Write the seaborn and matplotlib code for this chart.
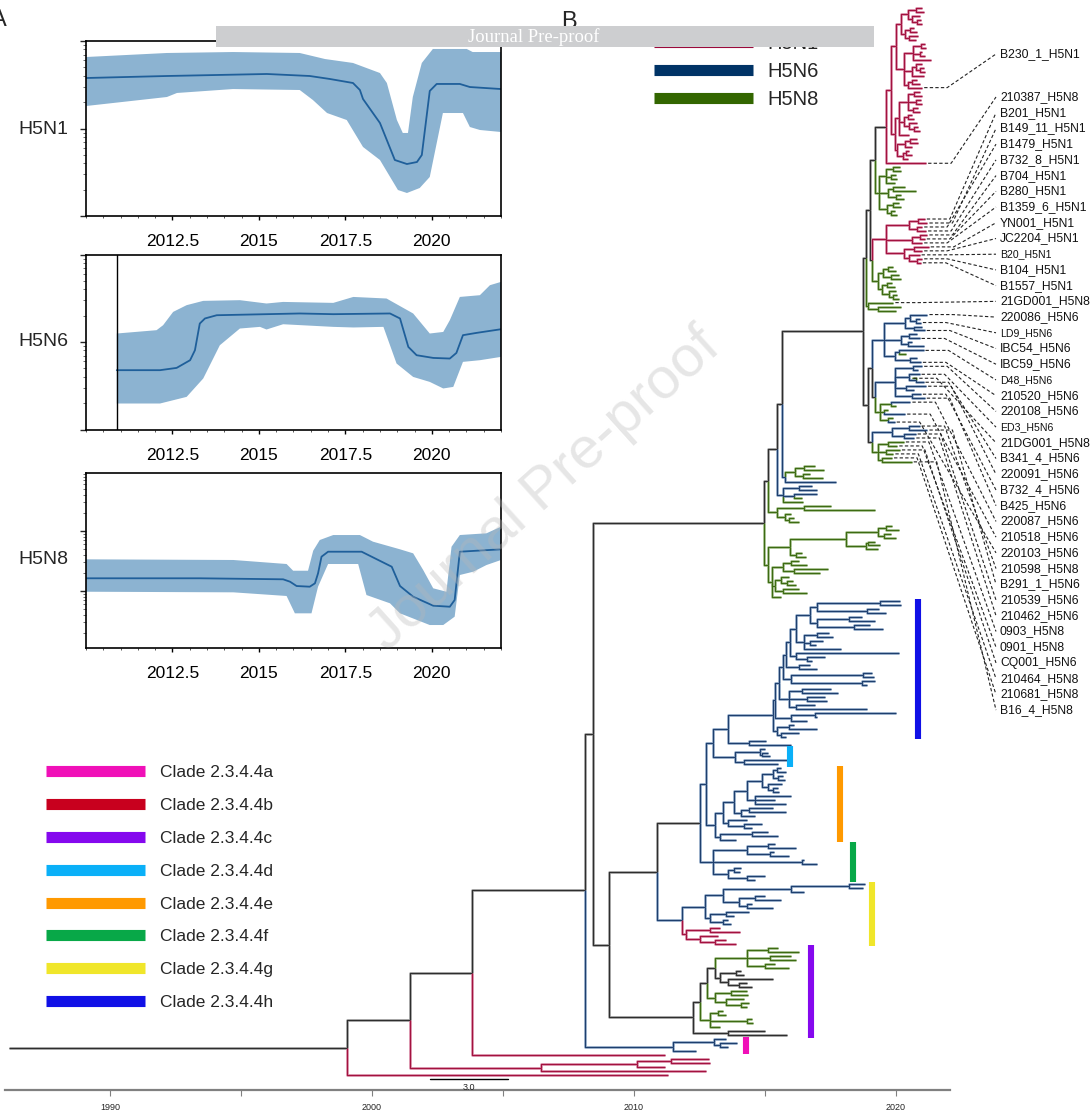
import numpy as np
import pandas as pd
import seaborn as sns
import matplotlib
matplotlib.use('Agg')
import matplotlib.pyplot as plt
from matplotlib.collections import LineCollection
from matplotlib.lines import Line2D
from matplotlib.patches import Rectangle
from matplotlib.ticker import FixedLocator, MultipleLocator, LogLocator, NullFormatter

sns.set_theme(style='white')
plt.rcParams['font.family'] = ['Liberation Sans', 'DejaVu Sans']

# ---------------- panel A: skyline data (log10 scale) ----------------
h5n1_med_year = [2010.0, 2012.34, 2015.23, 2016.47, 2017.05, 2017.72, 2017.92, 2018.01, 2018.5, 2018.93,
                 2019.28, 2019.57, 2019.71, 2019.94, 2020.14, 2020.81, 2021.1, 2022.0]
h5n1_med_log = [1.577, 1.6, 1.623, 1.6, 1.566, 1.52, 1.44, 1.337, 1.063, 0.64,
                0.594, 0.617, 0.697, 1.429, 1.509, 1.509, 1.474, 1.451]
h5n1_hi_year = [2010.0, 2012.34, 2014.25, 2016.18, 2016.91, 2017.72, 2018.5, 2018.7, 2018.99, 2019.16,
                2019.31, 2019.45, 2019.71, 2020.03, 2021.01, 2021.18, 2022.0]
h5n1_hi_log = [1.817, 1.863, 1.874, 1.863, 1.794, 1.749, 1.634, 1.52, 1.097, 0.949,
               0.949, 1.36, 1.749, 1.909, 1.909, 1.874, 1.874]
h5n1_lo_year = [2010.0, 2012.34, 2012.63, 2014.25, 2016.18, 2016.56, 2016.97, 2017.54, 2018.01, 2018.5,
                2019.02, 2019.28, 2019.65, 2019.94, 2020.32, 2020.9, 2021.1, 2021.39, 2022.0]
h5n1_lo_log = [1.257, 1.36, 1.406, 1.451, 1.44, 1.326, 1.177, 1.097, 0.789, 0.64,
               0.297, 0.263, 0.32, 0.446, 1.177, 1.177, 1.017, 0.983, 0.96]

h5n6_med_year = [2010.89, 2012.14, 2012.62, 2013.01, 2013.15, 2013.29, 2013.44, 2013.78, 2015.22, 2016.18,
                 2017.15, 2018.79, 2019.08, 2019.32, 2019.56, 2020.04, 2020.52, 2020.71, 2020.9, 2021.29, 2022.0]
h5n6_med_log = [0.678, 0.678, 0.704, 0.792, 0.906, 1.211, 1.269, 1.306, 1.318, 1.326,
                1.318, 1.326, 1.269, 0.944, 0.849, 0.818, 0.811, 0.875, 1.078, 1.104, 1.146]
h5n6_hi_year = [2010.89, 2012.04, 2012.23, 2012.52, 2012.91, 2013.39, 2014.45, 2015.22, 2015.7, 2017.15,
                2017.73, 2018.69, 2019.46, 2019.94, 2020.33, 2020.52, 2020.81, 2021.39, 2021.68, 2022.0]
h5n6_hi_log = [1.097, 1.135, 1.192, 1.344, 1.421, 1.47, 1.478, 1.44, 1.458, 1.447,
               1.515, 1.497, 1.326, 1.097, 1.115, 1.249, 1.515, 1.535, 1.649, 1.687]
h5n6_lo_year = [2010.89, 2012.14, 2012.91, 2013.39, 2013.87, 2014.45, 2015.03, 2015.22, 2015.7, 2017.15,
                2017.73, 2018.6, 2018.98, 2019.46, 2019.94, 2020.33, 2020.62, 2020.9, 2021.39, 2022.0]
h5n6_lo_log = [0.297, 0.297, 0.373, 0.583, 0.963, 1.154, 1.173, 1.143, 1.203, 1.173,
               1.166, 1.173, 0.754, 0.601, 0.544, 0.469, 0.487, 0.773, 0.792, 0.83]

h5n8_med_year = [2010.0, 2013.29, 2015.7, 2015.9, 2016.09, 2016.47, 2016.62, 2016.71, 2016.81, 2017.0,
                 2017.97, 2018.84, 2019.08, 2019.46, 2020.04, 2020.52, 2020.66, 2020.81, 2022.0]
h5n8_med_log = [0.212, 0.212, 0.195, 0.155, 0.083, 0.072, 0.128, 0.295, 0.572, 0.655,
                0.655, 0.405, 0.083, -0.095, -0.245, -0.262, -0.15, 0.655, 0.695]
h5n8_hi_year = [2010.0, 2014.26, 2015.8, 2015.99, 2016.42, 2016.57, 2016.76, 2017.15, 2017.92, 2018.3,
                2019.08, 2019.46, 2019.75, 2020.04, 2020.42, 2020.57, 2020.81, 2021.58, 2022.0]
h5n8_hi_log = [0.528, 0.517, 0.45, 0.338, 0.338, 0.672, 0.85, 0.933, 0.933, 0.822,
               0.695, 0.628, 0.35, 0.045, -0.012, 0.738, 0.933, 0.962, 1.072]
h5n8_lo_year = [2010.0, 2014.26, 2015.8, 2016.04, 2016.52, 2016.71, 2017.0, 2017.87, 2018.11, 2018.79,
                2019.08, 2019.94, 2020.33, 2020.66, 2020.81, 2021.2, 2021.58, 2022.0]
h5n8_lo_log = [-0.012, -0.022, -0.083, -0.372, -0.372, 0.072, 0.45, 0.45, -0.067, -0.205,
               -0.372, -0.567, -0.567, -0.428, 0.267, 0.322, 0.433, 0.517]

subtypes = ['H5N1', 'H5N6', 'H5N8']
subtype_colors = ['#9B0A3B', '#003366', '#336600']
clade_names = ['Clade 2.3.4.4a', 'Clade 2.3.4.4b', 'Clade 2.3.4.4c', 'Clade 2.3.4.4d',
               'Clade 2.3.4.4e', 'Clade 2.3.4.4f', 'Clade 2.3.4.4g', 'Clade 2.3.4.4h']
clade_colors = ['#F010B8', '#C8001E', '#8508EE', '#0AB0F8', '#FF9900', '#08A848', '#F0E62A', '#1010E6']

# ---------------- panel B: time tree (node label:time in years) ----------------
# r=H5N1, b=H5N6, g=H5N8, k=unresolved ; name after '=' ; clade tag after '#'
red_a_1a = "((r:2021.0,r:2021.05)r:2020.75,(r:2020.9,(r:2020.95,r:2021.0)r:2020.8)r:2020.6)r:2020.45"
red_a_1b = "((r:2020.7,r:2020.8)r:2020.55,(r:2020.85,r:2020.75)r:2020.5)r:2020.35"
red_a_1c = "((r:2021.1,r:2021.15)r:2020.95,(r:2021.0,r:2021.1)r:2020.9,r:2021.35)r:2020.65"
red_a_1d = "((r:2021.0,(r:2021.05,r:2021.1)r:2020.9)r:2020.75,r:2021.05)r:2020.6"
red_a_1e = "((r:2020.8,r:2020.9)r:2020.6,r=B230_1_H5N1:2021.0)r:2020.45"
red_a_2a = "((r:2020.9,r:2021.0)r:2020.7,(r:2020.95,r:2021.0)r:2020.75,(r:2020.85,r:2020.9)r:2020.65)r:2020.45"
red_a_2b = "((r:2020.6,r:2020.7)r:2020.45,(r:2020.8,(r:2020.85,r:2020.9)r:2020.7)r:2020.5)r:2020.3"
red_a_2c = "((r:2020.8,r:2020.85)r:2020.55,r:2020.6)r:2020.35,((r:2020.5,r:2020.6)r:2020.4,r:2020.45)r:2020.25"
green_1 = ("(((g:2020.15,g:2020.2)g:2019.9,(g:2020.0,g:2020.05)g:2019.8,g:2019.95)g:2019.6,"
           "((g:2020.35,g:2020.75)g:2019.9,(g:2020.2,g:2020.3)g:2020.0)g:2019.7,"
           "((g:2020.1,g:2020.2)g:2019.9,(g:2019.95,g:2020.05)g:2019.8)g:2019.65)g:2019.35")
red_b = ("(((r=B201_H5N1:2021.1,r=B149_11_H5N1:2021.2)r:2020.85,(r=B1479_H5N1:2021.0,r=B732_8_H5N1:2021.15)r:2020.8)r:2020.5,"
         "((r=B704_H5N1:2021.2,r=B280_H5N1:2021.1)r:2020.9,r=B1359_6_H5N1:2021.0)r:2020.6,"
         "((r=YN001_H5N1:2021.25,r=JC2204_H5N1:2021.0)r:2020.7,(r=B20_H5N1:2020.9,"
         "(r=B104_H5N1:2021.0,r=B1557_H5N1:2020.95)r:2020.8)r:2020.5)r:2020.3)r:2019.6")
green_2 = ("(((g:2019.9,g:2020.0)g:2019.7,(g:2020.1,g:2020.2)g:2019.8)g:2019.5,"
           "((g:2019.85,g:2019.95)g:2019.65,(g:2020.0,(g:2020.05,g:2020.1)g:2019.9)g:2019.75)g:2019.45)g:2019.3")
green_3 = "(g=21GD001_H5N8:2019.9,(g:2020.2,g:2020.0)g:2019.3)g:2018.95"
blue_1 = ("(((b=220086_H5N6:2021.2,(b:2020.9,b=LD9_H5N6:2020.95)b:2020.75)b:2020.55,(b:2021.0,b=IBC54_H5N6:2021.1)b:2020.7)b:2020.35,"
          "((b:2020.8,b=IBC59_H5N6:2020.9)b:2020.5,(b:2020.6,b:2021.05)b:2020.45)b:2020.2,"
          "((b=D48_H5N6:2021.05,g:2020.4)b:2020.1,(b:2020.8,b=210520_H5N6:2020.95)b:2020.55)b:2019.95)b:2019.55")
blue_2 = ("((b=220108_H5N6:2021.0,b:2020.85)b:2020.65,(b=ED3_H5N6:2020.9,(g=21DG001_H5N8:2020.6,b=B341_4_H5N6:2021.05)b:2020.75)b:2020.5,"
          "(b=220091_H5N6:2021.15,b:2020.7)b:2020.4,(b=B732_4_H5N6:2020.95,b=B425_H5N6:2021.1)b:2020.6)b:2019.95")
mixed_2 = ("((b=220087_H5N6:2020.55,g:2020.0)g:2019.8,(g:2019.7,b=210518_H5N6:2020.35)g:2019.55,"
           "(g:2019.9,b=220103_H5N6:2019.95)g:2019.7)g:2019.4")
blue_3 = ("(((b=210598_H5N8:2020.9,b=B291_1_H5N6:2021.2)b:2020.5,(b=210539_H5N6:2020.75,b=210462_H5N6:2020.7)b:2020.3)b:2019.85,"
          "((g=0903_H5N8:2020.3,g=0901_H5N8:2020.05)g:2019.7,(g=CQ001_H5N6:2020.15,g=210464_H5N8:2019.9)g:2019.6,"
          "(g=210681_H5N8:2019.85,g=B16_4_H5N8:2020.6)g:2019.45)g:2019.3)k:2019.1")
mid_a = "(((g:2016.9,g:2017.25)g:2016.5,(g:2016.7,g:2017.2)g:2016.45)g:2016.15,b:2017.7)b:2015.75"
mid_b = "((b:2016.8,b:2017.0)b:2016.3,(b:2017.0,g:2016.4)b:2016.1,g:2016.45)b:2015.7"
mid_c = "((g:2017.5,g:2019.2)g:2016.5,(g:2016.0,(g:2016.1,g:2016.3)g:2015.9)g:2015.75)g:2015.45"
green_5a = ("((((g:2019.85,g:2020.1)g:2019.6,(g:2019.8,g:2020.0)g:2019.55)g:2019.3,((g:2019.2,g:2019.4)g:2018.95,g:2019.3)g:2018.85)g:2018.1,"
            "(g:2016.4,g:2016.55)g:2016.2)g:2015.95")
green_5b = ("(((g:2016.3,g:2016.6)g:2016.0,(g:2017.4,g:2017.1)g:2016.1)g:2015.7,"
            "((g:2015.9,(g:2016.05,g:2016.2)g:2015.85)g:2015.6,(g:2016.3,g:2016.6)g:2015.7)g:2015.4,g:2015.6)g:2015.25")
clade_h_parts = ["((b:2020.15,b:2020.2)b:2019.4,(b:2019.35,b:2019.6)b:2018.9)b:2017.0",
                 "((b:2018.7,b:2019.2)b:2018.2,(b:2019.0,b:2019.5)b:2018.4)b:2017.0",
                 "((b:2017.45,b:2017.6)b:2017.0,(b:2017.2,b:2016.95)b:2016.7,b:2017.9)b:2016.5",
                 "(b:2020.1,(b:2017.3,b:2016.8)b:2016.6)b:2016.2",
                 "(b:2016.7,b:2017.0)b:2016.3",
                 "((b:2019.1,b:2019.15)b:2018.75,(b:2019.2,b:2018.9)b:2018.7)b:2016.0",
                 "((b:2017.5,b:2017.8)b:2016.4,(b:2017.3,b:2017.35)b:2016.6,(b:2016.9,b:2018.9)b:2016.2)b:2015.9",
                 "((b:2020.0,b:2017.0)b:2016.9,b:2016.6)b:2016.0",
                 "((b:2016.1,b:2017.0)b:2015.9,(b:2016.3,b:2015.8)b:2015.6)b:2015.45"]
clade_h_spine = ["b:2016.7", "b:2016.2", "b:2015.95", "b:2015.8", "b:2015.7", "b:2015.55", "b:2015.4", "b#h:2015.3"]
small_h = "(b:2015.05,b:2016.0)b:2014.4"
clade_d = "((b:2015.0,(b:2015.1,b:2015.2)b:2014.9)b:2014.8,(b:2015.85,b:2015.5)b:2014.2)b#d:2013.85"
clade_e_parts = ["((b:2015.6,b:2015.8)b:2015.45,(b:2015.7,b:2015.75)b:2015.5)b:2015.3",
                 "(b:2015.65,(b:2015.5,b:2015.55)b:2015.3)b:2015.1",
                 "(b:2016.0,b:2015.4,b:2015.8)b:2014.6",
                 "((b:2015.3,b:2015.8)b:2014.4,b:2014.6)b:2014.1",
                 "(b:2014.3,(b:2014.9,b:2014.5)b:2014.2)b:2013.6",
                 "((b:2015.1,b:2015.5)b:2014.5,b:2013.9)b:2013.3"]
clade_e_spine = ["b:2014.9", "b:2014.3", "b:2013.8", "b:2013.4", "b#e:2013.1"]
clade_f = ("(((b:2015.4,b:2016.2)b:2015.1,(b:2015.35,b:2015.9)b:2015.2)b:2014.3,(b:2016.5,b:2017.0)b:2016.4,"
           "((b:2014.1,b:2014.05)b:2013.8,(b:2015.0,b:2014.6)b:2014.3)b:2013.6)b#f:2013.0")
clade_g_parts = ["((b:2018.8,b:2018.75)b:2018.2,b:2016.5)b:2016.0",
                 "((b:2015.0,b:2015.6)b:2014.6,(b:2014.5,b:2015.3)b:2014.3)b:2014.0",
                 "((b:2014.4,b:2013.8)b:2013.5,(b:2013.6,b:2013.7)b:2013.4)b:2012.9",
                 "((r:2013.3,r:2014.05)r:2012.9,(r:2013.2,(r:2013.5,r:2013.9)r:2013.1)r:2012.5)r:2012.0"]
clade_g_spine = ["b:2013.4", "b:2012.7", "b#g:2011.83"]
clade_c_parts = ["((g:2015.5,g:2016.3)g:2015.1,(g:2016.0,g:2016.2)g:2015.2,(g:2015.4,g:2015.9)g:2015.0)g:2014.3",
                 "((k:2014.1,k:2014.2)k:2013.9,(k:2015.3,(k:2014.3,k:2014.5)k:2014.0)k:2013.6)k:2013.3",
                 "((g:2014.3,g:2014.35)g:2013.7,(g:2014.2,(g:2014.4,g:2014.3)g:2014.1)g:2013.5)g:2013.1",
                 "((g:2013.4,g:2013.5)g:2013.2,(g:2014.5,g:2014.55)g:2014.3,g:2013.3)g:2012.9",
                 "(k:2015.0,k:2015.85)k:2013.6"]
clade_c_spine = ["k:2013.1", "k:2012.8", "k:2012.5", "k#c:2012.25"]
clade_a = "((b:2013.5,(b:2013.95,b:2013.6)b:2013.3)b:2013.05,b:2012.35)b#a:2011.5"
red_basal = "(((r:2012.85,r:2012.9)r:2011.4,r:2011.2)r:2010.1,r:2012.75)r:2006.45"


def ladder(parts, spine):
    s = parts[0]
    for part, lab in zip(parts[1:], spine):
        s = "(" + s + "," + part + ")" + lab
    return s


def build_tree():
    red_a = ("(((" + red_a_1a + "," + red_a_1b + ")r:2020.2,(" + red_a_1c + "," + red_a_1d + "," + red_a_1e +
             ")r:2020.3)r:2020.0,((" + red_a_2a + "," + red_a_2b + ",r:2020.5)r:2020.1,(" + red_a_2c +
             ")r:2020.05)r:2019.95)r:2019.8")
    u1 = "((" + red_a + ",r=210387_H5N8:2021.15)k:2019.6," + green_1 + ")k:2019.2"
    u2 = "(" + red_b + "," + green_2 + ")k:2019.1"
    up = "((" + u1 + "," + u2 + ")k:2019.0," + green_3 + ")k:2018.85"
    low = "((" + blue_1 + ",(" + blue_2 + "," + mixed_2 + ")k:2019.2)k:2019.1," + blue_3 + ")k:2018.95"
    top = "(" + up + "," + low + ")k:2018.75"
    n764 = ("((((" + top + "," + mid_a + ")k:2015.65," + mid_b + ")k:2015.45," + mid_c + ")k:2015.1,("
            + green_5a + "," + green_5b + ")g:2015.1)k:2014.95")
    ch = "(" + clade_h_parts[0] + "," + clade_h_parts[1] + ")" + clade_h_spine[0]
    ch = ladder([ch] + clade_h_parts[2:], clade_h_spine[1:])
    n713 = "((" + ch + "," + small_h + ")b:2013.6," + clade_d + ")b:2013.0"
    ce = "(" + clade_e_parts[0] + "," + clade_e_parts[1] + ")" + clade_e_spine[0]
    ce = ladder([ce] + clade_e_parts[2:], clade_e_spine[1:])
    n700 = "((" + n713 + "," + ce + ")b:2012.75," + clade_f + ")k:2012.52"
    cg = "(" + clade_g_parts[0] + "," + clade_g_parts[1] + ")" + clade_g_spine[0]
    cg = ladder([cg] + clade_g_parts[2:], clade_g_spine[1:])
    cc = "(" + clade_c_parts[0] + "," + clade_c_parts[1] + ")" + clade_c_spine[0]
    cc = ladder([cc] + clade_c_parts[2:], clade_c_spine[1:])
    n609 = "((" + n700 + "," + cg + ")k:2010.88," + cc + ")k:2009.05"
    n585 = "((" + n764 + "," + n609 + ")k:2008.44," + clade_a + ")k:2008.13"
    n347 = "(((" + n585 + ",r:2011.2)k:2003.82," + red_basal + ")k:2001.45,r:2011.3)k:1999.05"
    return "(" + n347 + ")k:1986.15"


def parse_newick(text):
    s = text.replace(' ', '')
    pos = 0

    def read():
        nonlocal pos
        kids = []
        if s[pos] == '(':
            pos += 1
            kids.append(read())
            while s[pos] == ',':
                pos += 1
                kids.append(read())
            pos += 1
        start = pos
        while pos < len(s) and s[pos] not in ',()':
            pos += 1
        label, t = s[start:pos].rsplit(':', 1)
        name = clade = None
        if '=' in label:
            label, name = label.split('=', 1)
        if '#' in label:
            label, clade = label.split('#', 1)
        return {'color': label, 'name': name, 'clade': clade, 'time': float(t), 'children': kids}
    return read()


tree = parse_newick(build_tree())
tips = []


def layout(node):
    if node['children']:
        for ch in node['children']:
            layout(ch)
        node['y'] = (node['children'][0]['y'] + node['children'][-1]['y']) / 2
    else:
        node['y'] = len(tips)
        tips.append(node)


layout(tree)

segs = {c: [] for c in 'rbgk'}
clades = {}


def collect(node, parent=None):
    if parent is not None:
        segs[node['color']].append([(parent['time'], parent['y']), (parent['time'], node['y']),
                                    (node['time'], node['y'])])
    if node['clade']:
        clades[node['clade']] = node
    for ch in node['children']:
        collect(ch, node)


collect(tree)


def tip_span(node):
    if not node['children']:
        return node['y'], node['y']
    spans = [tip_span(c) for c in node['children']]
    return min(a for a, b in spans), max(b for a, b in spans)


# ---------------- figure ----------------
W, H = 1090, 1114
fig = plt.figure(figsize=(W / 100, H / 100), dpi=100)

PX_YEAR = 26.2
x_left = 1990 - 110 / PX_YEAR
x_right = 1990 + (W - 110) / PX_YEAR
n_tip = len(tips)
s_px = (1075 - 8) / (n_tip - 1)


def py(px):
    return (px - 8) / s_px


axt = fig.add_axes([0, (H - 1090) / H, 1, 1090 / H])
axt.patch.set_alpha(0)
axt.set_xlim(x_left, x_right)
axt.set_ylim(py(1090), py(0))

dark = {'r': '#A3123F', 'b': '#1E3F6E', 'g': '#3D6B12', 'k': '#2E2E2E'}
light = {'r': '#D98AA6', 'b': '#8FA8C6', 'g': '#A2BE8A', 'k': '#9C9C9C'}
for c in 'kgbr':
    axt.add_collection(LineCollection(segs[c], colors=light[c], linewidths=1.9, capstyle='butt', zorder=2))
    axt.add_collection(LineCollection(segs[c], colors=dark[c], linewidths=0.8, capstyle='butt', zorder=3))

# clade bars
bar_year = {'a': 2014.27, 'c': 2016.76, 'd': 2015.95, 'e': 2017.86, 'f': 2018.36, 'g': 2019.08, 'h': 2020.84}
for letter, col in zip('abcdefgh', clade_colors):
    if letter in clades:
        y0, y1 = tip_span(clades[letter])
        axt.plot([bar_year[letter]] * 2, [y0 - 0.6, y1 + 0.6], color=col, lw=4.4,
                 solid_capstyle='butt', zorder=4)

# tip labels with dashed leaders
label_year = x_left + 1000 / PX_YEAR
small_names = {'B20_H5N1', 'LD9_H5N6', 'D48_H5N6', 'ED3_H5N6'}
named = [t for t in tips if t['name']]
label_px = [54] + [97 + 15.72 * k for k in range(len(named) - 1)]
for tip, lpx in zip(named, label_px):
    ly = py(lpx)
    bx = tip['time'] + 25 / PX_YEAR
    axt.plot([tip['time'] + 2 / PX_YEAR, bx, label_year - 4 / PX_YEAR], [tip['y'], tip['y'], ly],
             ls=(0, (3, 2)), color='#222222', lw=0.8, zorder=3)
    axt.text(label_year, ly, tip['name'], fontsize=7.6 if tip['name'] in small_names else 8.7,
             va='center', ha='left', color='#111111')

# scale bar
axt.plot([2002.2, 2005.2], [py(1079), py(1079)], color='black', lw=1.0)
axt.text(2003.7, py(1087), '3.0', fontsize=6.5, ha='center', va='center')

for sp in ['left', 'right', 'top']:
    axt.spines[sp].set_visible(False)
axt.spines['bottom'].set_bounds(1986.0, 2022.06)
axt.spines['bottom'].set_color('#808080')
axt.spines['bottom'].set_linewidth(1.6)
axt.set_yticks([])
axt.set_xticks([1990, 2000, 2010, 2020])
axt.xaxis.set_minor_locator(FixedLocator([1995, 2005, 2015]))
axt.tick_params(axis='x', which='both', direction='out', length=4, width=0.8, color='#808080',
                labelsize=6.5, pad=5, bottom=True)

# ---------------- panel A ----------------
band_color = '#8CB3D1'
line_color = '#1F5F9A'
panels = [
    (41, 216, (0, 2), h5n1_med_year, h5n1_med_log, h5n1_hi_year, h5n1_hi_log, h5n1_lo_year, h5n1_lo_log),
    (254.5, 429.5, (0, 2), h5n6_med_year, h5n6_med_log, h5n6_hi_year, h5n6_hi_log, h5n6_lo_year, h5n6_lo_log),
    (473.3, 647.7, (-0.945, 1.962), h5n8_med_year, h5n8_med_log, h5n8_hi_year, h5n8_hi_log, h5n8_lo_year, h5n8_lo_log),
]
label_y = [129, 342, 559]
for i, (top, bot, ylim, my, mv, hy, hv, ly_, lv) in enumerate(panels):
    ax = fig.add_axes([86 / W, (H - bot) / H, 415 / W, (bot - top) / H])
    ax.set_yscale('log')
    ax.fill(np.r_[hy, ly_[::-1]], 10 ** np.r_[hv, lv[::-1]], color=band_color, lw=0, zorder=1)
    df = pd.DataFrame({'year': my, 'ne': 10 ** np.array(mv)})
    sns.lineplot(data=df, x='year', y='ne', ax=ax, color=line_color, lw=1.3, sort=False,
                 estimator=None, zorder=2)
    if i == 1:
        ax.axvline(my[0], color='black', lw=1.0, zorder=3)
    ax.set_xlim(2010, 2022)
    ax.set_ylim(10 ** ylim[0], 10 ** ylim[1])
    ax.set_xlabel('')
    ax.set_ylabel('')
    ax.xaxis.set_major_locator(FixedLocator([2012.5, 2015, 2017.5, 2020]))
    ax.xaxis.set_minor_locator(MultipleLocator(0.5))
    ax.set_xticklabels(['2012.5', '2015', '2017.5', '2020'])
    ax.yaxis.set_major_locator(LogLocator(base=10))
    ax.yaxis.set_minor_locator(LogLocator(base=10, subs=np.arange(2, 10)))
    ax.yaxis.set_major_formatter(NullFormatter())
    ax.yaxis.set_minor_formatter(NullFormatter())
    ax.tick_params(axis='x', which='major', direction='out', length=3, width=1, labelsize=12.5, pad=10,
                   bottom=True, colors='black')
    ax.tick_params(axis='x', which='minor', direction='out', length=1.6, width=0.7, bottom=True, color='#555555')
    ax.tick_params(axis='y', which='major', direction='out', length=4, width=1, left=True)
    ax.tick_params(axis='y', which='minor', direction='out', length=2, width=0.6, left=True, color='#555555')
    for sp in ax.spines.values():
        sp.set_color('black')
        sp.set_linewidth(1.2)
    fig.text(43 / W, 1 - label_y[i] / H, subtypes[i], fontsize=14, ha='center', va='center')

# legends
sub_handles = [Line2D([], [], color=c, lw=8, solid_capstyle='butt') for c in subtype_colors]
fig.legend(sub_handles, subtypes, loc='upper left', bbox_to_anchor=(654 / W, 1 - 34 / H),
           frameon=False, borderpad=0, borderaxespad=0, handlelength=4.9, handletextpad=0.75,
           labelspacing=0.45, fontsize=14.5)
clade_handles = [Line2D([], [], color=c, lw=8, solid_capstyle='butt') for c in clade_colors]
fig.legend(clade_handles, clade_names, loc='upper left', bbox_to_anchor=(46 / W, 1 - 765 / H),
           frameon=False, borderpad=0, borderaxespad=0, handlelength=5.7, handletextpad=0.85,
           labelspacing=1.02, fontsize=12.5)

# panel letters
fig.text(7 / W, 1 - 20 / H, 'A', fontsize=17, ha='right', va='center')
fig.text(561 / W, 1 - 28 / H, 'B', fontsize=17, ha='left', va='baseline')

# journal banner and watermark
fig.add_artist(Rectangle((216 / W, 1 - 46.5 / H), (874 - 216) / W, 20.5 / H, transform=fig.transFigure,
                         facecolor='#CDCED0', edgecolor='none', zorder=10))
fig.text(534 / W, 1 - 37 / H, 'Journal Pre-proof', color='white', fontsize=13.4, ha='center', va='center',
         family=['Liberation Serif', 'DejaVu Serif'], zorder=11)
fig.text(545 / W, 1 - 490 / H, 'Journal Pre-proof', rotation=42, fontsize=42, color='#B8B8B8', alpha=0.35,
         ha='center', va='center', zorder=12)

fig.savefig('out.png', dpi=100)
